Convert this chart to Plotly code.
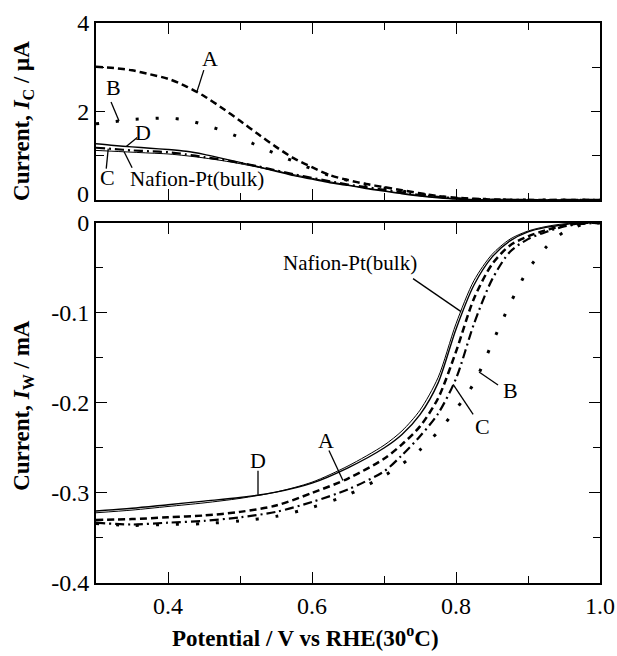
import numpy as np
import plotly.graph_objects as go

# ---- collector current I_C (uA), upper panel ----
x_c = [0.30, 0.325, 0.35, 0.375, 0.40, 0.425, 0.45, 0.475, 0.50, 0.525, 0.55, 0.575,
       0.60, 0.625, 0.65, 0.675, 0.70, 0.725, 0.75, 0.775, 0.80, 0.85, 0.90, 0.95, 1.00]
ic_A = [3.01, 2.98, 2.93, 2.84, 2.74, 2.57, 2.35, 2.08, 1.79, 1.49, 1.20, 0.94,
        0.74, 0.56, 0.45, 0.36, 0.29, 0.22, 0.15, 0.09, 0.05, 0.01, 0.0, 0.0, 0.0]
ic_B = [1.72, 1.77, 1.82, 1.84, 1.85, 1.81, 1.70, 1.57, 1.41, 1.22, 1.04, 0.87,
        0.70, 0.55, 0.44, 0.35, 0.27, 0.20, 0.13, 0.08, 0.04, 0.01, 0.0, 0.0, 0.0]
ic_C = [1.18, 1.15, 1.12, 1.10, 1.08, 1.03, 0.97, 0.91, 0.84, 0.76, 0.67, 0.58,
        0.50, 0.42, 0.35, 0.29, 0.23, 0.17, 0.11, 0.07, 0.04, 0.01, 0.0, 0.0, 0.0]
ic_D = [1.27, 1.23, 1.20, 1.17, 1.14, 1.10, 1.03, 0.94, 0.85, 0.75, 0.65, 0.55,
        0.47, 0.39, 0.33, 0.26, 0.20, 0.14, 0.09, 0.05, 0.02, 0.0, 0.0, 0.0, 0.0]
ic_bulk = [1.12, 1.10, 1.08, 1.06, 1.04, 1.00, 0.95, 0.89, 0.82, 0.74, 0.66, 0.57,
           0.49, 0.41, 0.34, 0.27, 0.21, 0.15, 0.10, 0.06, 0.03, 0.0, 0.0, 0.0, 0.0]

# ---- working electrode current I_W (mA), lower panel ----
x_w = [0.30, 0.35, 0.40, 0.45, 0.50, 0.55, 0.60, 0.65, 0.70, 0.725, 0.75, 0.775,
       0.80, 0.825, 0.85, 0.875, 0.90, 0.925, 0.95, 0.975, 1.00]
iw_A = [-0.330, -0.329, -0.327, -0.325, -0.321, -0.314, -0.300, -0.284, -0.262, -0.246,
        -0.226, -0.195, -0.143, -0.084, -0.046, -0.025, -0.015, -0.008, -0.003, 0.0, 0.0]
iw_B = [-0.334, -0.336, -0.335, -0.334, -0.331, -0.326, -0.316, -0.302, -0.281, -0.268,
        -0.252, -0.232, -0.207, -0.178, -0.134, -0.090, -0.052, -0.027, -0.010, -0.002, 0.0]
iw_C = [-0.333, -0.335, -0.333, -0.331, -0.327, -0.321, -0.310, -0.296, -0.276, -0.258,
        -0.237, -0.212, -0.173, -0.112, -0.063, -0.032, -0.018, -0.010, -0.004, -0.001, 0.0]
iw_D = [-0.320, -0.317, -0.313, -0.309, -0.305, -0.299, -0.289, -0.272, -0.250, -0.235,
        -0.213, -0.178, -0.118, -0.069, -0.038, -0.020, -0.010, -0.005, -0.002, 0.0, 0.0]
iw_bulk = [-0.322, -0.319, -0.315, -0.311, -0.306, -0.299, -0.288, -0.270, -0.247, -0.231,
           -0.208, -0.172, -0.112, -0.064, -0.035, -0.018, -0.009, -0.004, -0.001, 0.0, 0.0]

x_ticks = [0.4, 0.6, 0.8, 1.0]
x_ticktext = ["0.4", "0.6", "0.8", "1.0"]
yc_ticks = [2, 4]
yc_ticktext = ["2", "4"]
yw_ticks = [0, -0.1, -0.2, -0.3, -0.4]
yw_ticktext = ["0", "-0.1", "-0.2", "-0.3", "-0.4"]

SERIF = "Liberation Serif, Times New Roman, serif"

styles = {
    "A": dict(dash="7px,4px", width=2.5),
    "B": dict(dash="3px,17px", width=3),
    "C": dict(dash="9px,4px,2px,4px", width=2.2),
    "D": dict(dash="solid", width=1.4),
    "bulk": dict(dash="solid", width=1.0),
}

fig = go.Figure()

top = {"A": ic_A, "B": ic_B, "C": ic_C, "D": ic_D, "bulk": ic_bulk}
bot = {"A": iw_A, "B": iw_B, "C": iw_C, "D": iw_D, "bulk": iw_bulk}

for key, ys in top.items():
    fig.add_trace(go.Scatter(x=x_c, y=ys, mode="lines", xaxis="x", yaxis="y",
                             line=dict(color="black", shape="spline", smoothing=0.8, **styles[key]),
                             showlegend=False, hoverinfo="skip"))
for key, ys in bot.items():
    fig.add_trace(go.Scatter(x=x_w, y=ys, mode="lines", xaxis="x2", yaxis="y2",
                             line=dict(color="black", shape="spline", smoothing=0.8, **styles[key]),
                             showlegend=False, hoverinfo="skip"))

# ---- curve labels with leader lines (offsets in pixels from a point on the curve) ----
def label(text, xs, ys, at, line_dx, line_dy, text_dx, text_dy, axes, size=22):
    px = at
    py = float(np.interp(at, xs, ys))
    xr, yr = axes
    fig.add_shape(type="line", xref=xr, yref=yr,
                  xsizemode="pixel", xanchor=px, x0=0, x1=line_dx,
                  ysizemode="pixel", yanchor=py, y0=0, y1=line_dy,
                  line=dict(color="black", width=1.3))
    fig.add_annotation(x=px, y=py, xref=xr, yref=yr, text=text, showarrow=False,
                       xanchor="center", yanchor="middle",
                       xshift=text_dx, yshift=text_dy,
                       font=dict(family=SERIF, size=size, color="black"))

label("A", x_c, ic_A, 0.440, 7, 22, 13, 34, ("x", "y"))
label("B", x_c, ic_B, 0.332, -8, 19, -6, 34, ("x", "y"))
label("D", x_c, ic_D, 0.342, 11, 9, 17, 14, ("x", "y"))
label("C", x_c, ic_C, 0.317, -2, -20, -1, -29, ("x", "y"))
label("Nafion-Pt(bulk)", x_c, ic_bulk, 0.339, 8, -16, 73, -27, ("x", "y"), size=21)

label("Nafion-Pt(bulk)", x_w, iw_bulk, 0.807, -48, 33, -111, 49, ("x2", "y2"), size=21)
label("B", x_w, iw_B, 0.832, 19, -13, 31, -18, ("x2", "y2"))
label("C", x_w, iw_C, 0.796, 20, -30, 29, -42, ("x2", "y2"))
label("A", x_w, iw_A, 0.643, -14, 30, -17, 40, ("x2", "y2"))
label("D", x_w, iw_D, 0.525, 0, 24, 0, 34, ("x2", "y2"))

tickfont = dict(family=SERIF, size=24, color="black")

# zero label of the upper panel, set slightly above its tick so it clears the lower "0"
fig.add_annotation(xref="paper", yref="y", x=0, y=0, xanchor="right", yanchor="middle",
                   xshift=-5, yshift=6, text="0", showarrow=False, font=tickfont)

# ---- axis titles ----
title_font = dict(family=SERIF, size=23, color="black")
fig.add_annotation(xref="paper", yref="paper", x=-0.145, y=0.825, textangle=-90,
                   xanchor="center", yanchor="middle",
                   text="<b>Current, <i>I</i><sub>C</sub> / μA</b>", showarrow=False,
                   font=title_font)
fig.add_annotation(xref="paper", yref="paper", x=-0.145, y=0.318, textangle=-90,
                   xanchor="center", yanchor="middle",
                   text="<b>Current, <i>I</i><sub>W</sub> / mA</b>", showarrow=False,
                   font=title_font)
fig.add_annotation(xref="paper", yref="paper", x=0.415, y=-0.096,
                   xanchor="center", yanchor="middle",
                   text="<b>Potential / V vs RHE(30<sup>o</sup>C)</b>", showarrow=False,
                   font=title_font)

common_x = dict(range=[0.3, 1.0], showline=True, linecolor="black", linewidth=2,
                mirror="allticks", ticks="inside", ticklen=11, tickwidth=1.3, tickcolor="black",
                tickmode="array", tickvals=x_ticks, ticktext=x_ticktext,
                minor=dict(dtick=0.1, tick0=0.3, ticks="inside", ticklen=7, tickwidth=1.3,
                           tickcolor="black"),
                showgrid=False, zeroline=False, tickfont=tickfont, automargin=False)

fig.update_layout(
    template="none",
    width=617, height=656, autosize=False,
    margin=dict(l=96, r=17, t=23, b=73),
    paper_bgcolor="white", plot_bgcolor="white",
    font=dict(family=SERIF, color="black"),
    xaxis=dict(common_x, anchor="y", showticklabels=False),
    yaxis=dict(domain=[0.684, 1.0], range=[0, 4], showline=True, linecolor="black", linewidth=2,
               mirror="allticks", ticks="inside", ticklen=9, tickwidth=1.3, tickcolor="black",
               tickmode="array", tickvals=yc_ticks, ticktext=yc_ticktext,
               minor=dict(dtick=1, tick0=0, ticks="inside", ticklen=8, tickwidth=1.3,
                          tickcolor="black"),
               showgrid=False, zeroline=False, tickfont=tickfont, automargin=False),
    xaxis2=dict(common_x, anchor="y2", matches="x", showticklabels=True),
    yaxis2=dict(domain=[0.0, 0.643], range=[-0.4, 0], showline=True, linecolor="black", linewidth=2,
                mirror="allticks", ticks="inside", ticklen=11, tickwidth=1.3, tickcolor="black",
                tickmode="array", tickvals=yw_ticks, ticktext=yw_ticktext,
                minor=dict(dtick=0.05, tick0=0, ticks="inside", ticklen=7, tickwidth=1.3,
                           tickcolor="black"),
                showgrid=False, zeroline=False, tickfont=tickfont, automargin=False),
)

fig.write_html("out.html")
